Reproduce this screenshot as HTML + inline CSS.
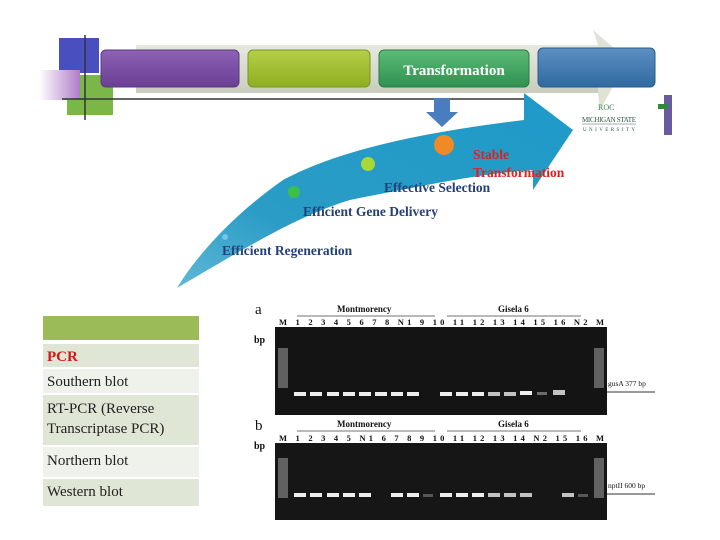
<!DOCTYPE html>
<html><head><meta charset="utf-8"><style>
body{margin:0;background:#fff;width:720px;height:540px;overflow:hidden;font-family:"Liberation Serif",serif}
</style></head><body>
<svg width="720" height="540" xmlns="http://www.w3.org/2000/svg" style="position:absolute;left:0;top:0">
<defs>
<linearGradient id="gb" x1="0" y1="0" x2="0" y2="1"><stop offset="0" stop-color="#e6e9de"/><stop offset="1" stop-color="#c9cdbd"/></linearGradient>
<linearGradient id="pu" x1="0" y1="0" x2="0" y2="1"><stop offset="0" stop-color="#8d62b5"/><stop offset="1" stop-color="#6a3f94"/></linearGradient>
<linearGradient id="li" x1="0" y1="0" x2="0" y2="1"><stop offset="0" stop-color="#b5cf46"/><stop offset="1" stop-color="#8fae22"/></linearGradient>
<linearGradient id="gr" x1="0" y1="0" x2="0" y2="1"><stop offset="0" stop-color="#5dbb77"/><stop offset="1" stop-color="#2f9150"/></linearGradient>
<linearGradient id="bl" x1="0" y1="0" x2="0" y2="1"><stop offset="0" stop-color="#5d8fc2"/><stop offset="1" stop-color="#2f6aa0"/></linearGradient>
<linearGradient id="sq" x1="0" y1="0" x2="1" y2="0"><stop offset="0" stop-color="#fff"/><stop offset="1" stop-color="#b07cc8"/></linearGradient>
<linearGradient id="cur" x1="0" y1="1" x2="1" y2="0"><stop offset="0" stop-color="#5fb8d6"/><stop offset="0.3" stop-color="#2a9cc6"/><stop offset="1" stop-color="#1e9ac8"/></linearGradient>
</defs>
<rect x="59" y="38" width="40" height="35" fill="#4a4fc0"/>
<rect x="67" y="75" width="46" height="40" fill="#7ab648"/>
<rect x="39" y="70" width="41" height="30" fill="url(#sq)"/>
<rect x="136" y="45" width="462" height="48" fill="url(#gb)"/>
<polygon points="593,30 628,60 600,110 598,93 598,45" fill="#dfe3d5"/>
<line x1="62" y1="99" x2="529" y2="99" stroke="#333" stroke-width="1.5"/>
<line x1="85" y1="35" x2="85" y2="120" stroke="#333" stroke-width="1.5"/>
<rect x="101" y="50" width="138" height="37" rx="5" fill="url(#pu)" stroke="#5a3a80"/>
<rect x="248" y="50" width="122" height="37" rx="5" fill="url(#li)" stroke="#7c9520"/>
<rect x="379" y="50" width="150" height="37" rx="5" fill="url(#gr)" stroke="#2b7a45"/>
<rect x="538" y="48" width="117" height="39" rx="5" fill="url(#bl)" stroke="#2a5a8a"/>
<text x="454" y="75" text-anchor="middle" font-size="15" font-weight="bold" fill="#fff">Transformation</text>
<polygon points="434,98 450,98 450,112 458,112 442,127 426,112 434,112" fill="#4a7cc0"/>
<path d="M177,288 C200,250 240,210 283,180 C330,155 400,135 524,120 L524,93 L573,130 L533,190 L533,170 C490,173 450,180 350,200 C300,215 250,245 177,288 Z" fill="url(#cur)"/>
<circle cx="444" cy="145" r="10" fill="#f08a24"/>
<circle cx="368" cy="164" r="7" fill="#a8d838"/>
<circle cx="294" cy="192" r="6" fill="#3cc04a"/>
<circle cx="225" cy="237" r="3" fill="#6fc6e6"/>
<g font-weight="bold" font-size="13.5" fill="#24407a">
<text x="222" y="255">Efficient Regeneration</text>
<text x="303" y="216">Efficient Gene Delivery</text>
<text x="384" y="192">Effective Selection</text>
<text x="473" y="159" fill="#e02020">Stable</text>
<text x="473" y="177" fill="#e02020">Transformation</text>
</g>
<text x="598" y="110" font-size="8" fill="#3a8a50">ROC</text>
<text x="582" y="122" font-size="7" fill="#2a5a40" textLength="54">MICHIGAN STATE</text>
<line x1="582" y1="124" x2="636" y2="124" stroke="#557" stroke-width="0.6"/>
<text x="583" y="131" font-size="5" fill="#2a5a40" textLength="52">UNIVERSITY</text>
<rect x="664" y="95" width="8" height="40" fill="#6a5aa0"/>
<rect x="658" y="104" width="10" height="5" fill="#2e8a3a"/>
<rect x="43" y="316" width="156" height="24" fill="#9bbb59"/>
<rect x="43" y="344" width="156" height="23" fill="#dfe6d6"/>
<rect x="43" y="369" width="156" height="24" fill="#eef2ea"/>
<rect x="43" y="395" width="156" height="50" fill="#dfe6d6"/>
<rect x="43" y="447" width="156" height="30" fill="#eef2ea"/>
<rect x="43" y="479" width="156" height="27" fill="#dfe6d6"/>
<g font-size="15" fill="#222">
<text x="47" y="361" fill="#d01818" font-weight="bold">PCR</text>
<text x="47" y="386">Southern blot</text>
<text x="47" y="413">RT-PCR (Reverse</text>
<text x="47" y="433">Transcriptase PCR)</text>
<text x="47" y="465">Northern blot</text>
<text x="47" y="496">Western blot</text>
</g>
<g font-size="9" fill="#111" font-weight="bold">
<text x="255" y="314" font-size="15" font-weight="normal">a</text>
<text x="337" y="312">Montmorency</text>
<text x="498" y="312">Gisela 6</text>
<line x1="297" y1="316" x2="435" y2="316" stroke="#444" stroke-width="0.8"/>
<line x1="447" y1="316" x2="581" y2="316" stroke="#444" stroke-width="0.8"/>
<text x="279" y="325" textLength="325" font-size="8.5">M  1   2   3   4   5   6   7   8  N1  9  10  11  12  13  14  15  16  N2  M</text>
<text x="254" y="343" font-size="10">bp</text>
<text x="255" y="430" font-size="15" font-weight="normal">b</text>
<text x="337" y="427">Montmorency</text>
<text x="498" y="427">Gisela 6</text>
<line x1="297" y1="431" x2="435" y2="431" stroke="#444" stroke-width="0.8"/>
<line x1="447" y1="431" x2="581" y2="431" stroke="#444" stroke-width="0.8"/>
<text x="279" y="441" textLength="325" font-size="8.5">M  1   2   3   4   5  N1  6   7   8   9  10  11  12  13  14  N2  15  16  M</text>
<text x="254" y="449" font-size="10">bp</text>
<text x="608" y="386" font-size="7.5" font-weight="normal">gusA 377 bp</text>
<text x="608" y="488" font-size="7.5" font-weight="normal">nptII 600 bp</text>
</g>
<line x1="606" y1="392" x2="655" y2="392" stroke="#333"/>
<line x1="606" y1="494" x2="655" y2="494" stroke="#333"/>
<rect x="275" y="327" width="332" height="88" fill="#141414"/>
<rect x="275" y="443" width="332" height="77" fill="#161616"/>
<g fill="#eee">
<rect x="294" y="392" width="12" height="4"/><rect x="310" y="392" width="12" height="4"/><rect x="327" y="392" width="12" height="4"/><rect x="343" y="392" width="12" height="4"/><rect x="359" y="392" width="12" height="4"/><rect x="375" y="392" width="12" height="4"/><rect x="391" y="392" width="12" height="4"/><rect x="407" y="392" width="12" height="4"/>
<rect x="440" y="392" width="12" height="4"/><rect x="456" y="392" width="12" height="4"/><rect x="472" y="392" width="12" height="4"/><rect x="488" y="392" width="12" height="4" opacity=".8"/><rect x="504" y="392" width="12" height="4" opacity=".8"/><rect x="520" y="391" width="12" height="4"/><rect x="537" y="392" width="10" height="3" opacity=".4"/><rect x="553" y="390" width="12" height="5" opacity=".8"/>
<rect x="294" y="493" width="12" height="4"/><rect x="310" y="493" width="12" height="4"/><rect x="327" y="493" width="12" height="4"/><rect x="343" y="493" width="12" height="4"/><rect x="359" y="493" width="12" height="4"/><rect x="391" y="493" width="12" height="4"/><rect x="407" y="493" width="12" height="4"/><rect x="423" y="494" width="10" height="3" opacity=".3"/>
<rect x="440" y="493" width="12" height="4"/><rect x="456" y="493" width="12" height="4"/><rect x="472" y="493" width="12" height="4"/><rect x="488" y="493" width="12" height="4" opacity=".8"/><rect x="504" y="493" width="12" height="4" opacity=".8"/><rect x="520" y="493" width="12" height="4" opacity=".8"/><rect x="562" y="493" width="12" height="4" opacity=".8"/><rect x="578" y="494" width="10" height="3" opacity=".3"/>
<rect x="278" y="348" width="10" height="40" opacity=".35"/><rect x="594" y="348" width="10" height="40" opacity=".35"/>
<rect x="278" y="458" width="10" height="40" opacity=".35"/><rect x="594" y="458" width="10" height="40" opacity=".35"/>
</g>
</svg>
</body></html>
